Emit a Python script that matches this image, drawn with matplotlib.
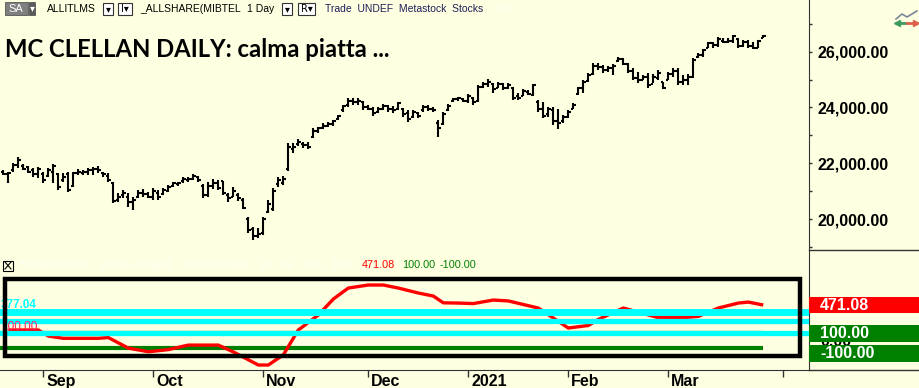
import matplotlib
matplotlib.use('Agg')
import matplotlib.pyplot as plt
import matplotlib.ticker as ticker
import matplotlib.transforms as mtransforms
from matplotlib.patches import Rectangle
from matplotlib.lines import Line2D
import numpy as np


# ==================== DATA ====================
# daily OHLC, FTSE Italia All-Share, 20 Aug 2020 -> 26 Mar 2021 (one entry per trading day)
highs = [21760, 21700, 22000, 22210, 21970, 21900, 21820, 21880, 21700, 21820,
         21970, 21640, 21640, 21680, 21700, 21780, 21760, 21820, 21880, 21900,
         21700, 21640, 21340, 20920, 21040, 20920, 20800, 21040, 21070, 20980,
         21100, 21040, 21100, 21220, 21340, 21340, 21500, 21500, 21620, 21550,
         21260, 21340, 21420, 21400, 21380, 20920, 21140, 20920, 20740, 20060,
         19730, 19670, 20090, 20680, 21100, 21520, 21550, 22710, 22710, 22860,
         22780, 22780, 23250, 23310, 23430, 23490, 23550, 23730, 24090, 24330,
         24350, 24330, 24230, 24090, 24030, 24030, 24110, 24090, 24070, 24210,
         23970, 23910, 23910, 23850, 24090, 24090, 24030, 23550, 23830, 24110,
         24350, 24390, 24350, 24470, 24390, 24810, 24930, 25010, 24890, 24930,
         24870, 24890, 24750, 24510, 24650, 24630, 24840, 24270, 24210, 24030,
         24010, 23930, 23730, 23910, 24150, 24750, 24990, 25220, 25580, 25580,
         25520, 25490, 25560, 25800, 25760, 25580, 25400, 25280, 25170, 25220,
         25190, 25340, 24930, 25280, 25400, 25400, 25170, 25190, 25760, 25940,
         26100, 26360, 26360, 26540, 26480, 26480, 26600, 26480, 26420, 26420,
         26360, 26420, 26600]
lows = [21580, 21280, 21700, 21820, 21760, 21640, 21520, 21460, 21280, 21520,
        21280, 21040, 21340, 20980, 21160, 21580, 21580, 21580, 21580, 21640,
        21520, 21340, 20560, 20620, 20740, 20440, 20320, 20740, 20800, 20740,
        20680, 20680, 20860, 20980, 21160, 21180, 21300, 21340, 21400, 21340,
        20740, 20800, 21060, 21040, 20860, 20620, 20800, 20660, 20350, 19490,
        19250, 19310, 19430, 20210, 20270, 21160, 21220, 21740, 22360, 22620,
        22540, 22500, 22890, 23070, 23230, 23310, 23350, 23550, 23850, 24030,
        24090, 24090, 23910, 23910, 23700, 23790, 23910, 23850, 23790, 23910,
        23670, 23490, 23640, 23610, 23850, 23870, 23850, 22950, 23370, 23870,
        24210, 24230, 24210, 24150, 24090, 24210, 24690, 24750, 24530, 24690,
        24630, 24650, 24270, 24270, 24410, 24450, 24410, 23850, 23610, 23670,
        23370, 23220, 23460, 23610, 23930, 24450, 24510, 24930, 25170, 25340,
        25250, 25280, 25170, 25640, 25520, 25220, 24990, 24870, 24990, 24690,
        24870, 24990, 24660, 24990, 25110, 24810, 24810, 24810, 25050, 25760,
        25820, 26120, 26140, 26180, 26300, 26300, 26300, 26120, 26180, 26120,
        26100, 26120, 26480]
opens = [21700, 21600, 21750, 21950, 21900, 21850, 21750, 21600, 21600, 21550,
         21700, 21600, 21400, 21600, 21200, 21650, 21650, 21700, 21750, 21800,
         21650, 21550, 21300, 20700, 20850, 20800, 20600, 20800, 20950, 20900,
         20800, 20950, 20900, 21000, 21200, 21250, 21350, 21400, 21450, 21500,
         21200, 20850, 21200, 21300, 21350, 20850, 20800, 20850, 20700, 20000,
         19650, 19400, 19500, 20250, 20350, 21250, 21300, 21800, 22500, 22700,
         22700, 22650, 22950, 23150, 23250, 23350, 23400, 23600, 23900, 24100,
         24250, 24200, 24200, 24000, 23950, 23850, 23950, 24050, 23950, 23950,
         23950, 23800, 23650, 23800, 23900, 24000, 23950, 23450, 23400, 23900,
         24250, 24300, 24300, 24250, 24350, 24250, 24750, 24850, 24850, 24700,
         24850, 24700, 24700, 24400, 24400, 24550, 24450, 24200, 23950, 23750,
         23900, 23500, 23500, 23650, 23950, 24500, 24700, 24950, 25200, 25500,
         25450, 25350, 25400, 25650, 25750, 25550, 25300, 25050, 25000, 25100,
         24850, 25050, 24900, 25000, 25200, 25300, 24900, 25000, 25100, 25800,
         25900, 26150, 26300, 26250, 26400, 26350, 26400, 26450, 26200, 26350,
         26200, 26150, 26500]
closes = [21620, 21650, 21950, 22100, 21800, 21700, 21600, 21800, 21400, 21750,
          21900, 21150, 21500, 21050, 21650, 21700, 21700, 21750, 21800, 21750,
          21600, 21400, 20650, 20800, 20950, 20600, 20700, 20950, 20900, 20800,
          21000, 20800, 21050, 21150, 21300, 21300, 21450, 21450, 21550, 21400,
          20850, 21200, 21300, 21100, 20950, 20750, 21000, 20750, 20400, 19600,
          19400, 19450, 20000, 20550, 21000, 21400, 21450, 22600, 22600, 22750,
          22650, 22600, 23150, 23250, 23350, 23420, 23500, 23700, 24050, 24250,
          24200, 24250, 24000, 23950, 23800, 23950, 24050, 23950, 23900, 24150,
          23750, 23600, 23850, 23700, 24000, 23950, 23900, 23250, 23750, 24050,
          24300, 24350, 24250, 24400, 24200, 24750, 24850, 24900, 24650, 24850,
          24700, 24800, 24350, 24350, 24600, 24500, 24800, 23950, 23700, 23950,
          23500, 23450, 23650, 23850, 24100, 24700, 24900, 25150, 25500, 25450,
          25350, 25400, 25500, 25750, 25550, 25300, 25050, 25000, 25100, 24800,
          25100, 25250, 24700, 25200, 25300, 24900, 25000, 25100, 25700, 25900,
          26050, 26300, 26250, 26450, 26350, 26400, 26550, 26200, 26350, 26200,
          26150, 26400, 26550]

# McClellan oscillator, read at (trading-day index, value)
osc_idx = [1, 7, 9, 12, 19, 21, 25, 29, 33, 37, 43, 46, 51, 53, 56, 59, 63, 66,
           69, 73, 76, 79, 83, 86, 88, 91, 94, 98, 101, 107, 110, 113, 117, 119,
           124, 129, 131, 136, 139, 143, 147, 149, 152]
osc_val = [140, 140, 60, 30, 30, 40, -100, -148, -120, -60, -60, -150, -324,
           -324, -190, 140, 338, 550, 696, 736, 736, 696, 630, 590, 500, 497,
           490, 537, 525, 431, 299, 166, 200, 280, 431, 340, 303, 303, 320, 431,
           497, 510, 471]

cyan_levels = [377.04, 259, 100]
band_levels = [100, -100]

month_ticks = [8, 30, 52, 73, 93, 113, 133, 156]
month_labels = ['Sep', 'Oct', 'Nov', 'Dec', '2021', 'Feb', 'Mar', '']

price_ticks = [20000, 22000, 24000, 26000]
price_minor = [19000, 21000, 23000, 25000, 27000]

# ==================== LAYOUT ====================
W, H = 919, 388
BG = '#FFFFE1'
AXIS_X = 809
SANS = ['Liberation Sans', 'DejaVu Sans']


def fx(px):
    return px / W


def fy(py):
    return 1 - py / H


fig = plt.figure(figsize=(W / 100, H / 100), dpi=100, facecolor=BG)

ax = fig.add_axes([0, fy(250), fx(AXIS_X), 250 / H], facecolor=BG)
ax_osc = fig.add_axes([0, fy(370), fx(AXIS_X), 120 / H], facecolor=BG)

n = len(highs)
x = np.arange(n)
xlim = (-0.66, (AXIS_X - 3.3) / 5)

# === price OHLC bars ===
ax.vlines(x, lows, highs, color='black', lw=1.5)
ax.hlines(opens, x - 0.45, x, color='black', lw=1.5)
ax.hlines(closes, x, x + 0.45, color='black', lw=1.5)
ax.set_xlim(*xlim)
ax.set_ylim(18889, 27855)
for s in ['left', 'top', 'bottom']:
    ax.spines[s].set_visible(False)
ax.spines['right'].set_color('#333333')
ax.set_xticks([])
ax.yaxis.tick_right()
ax.set_yticks(price_ticks)
ax.set_yticks(price_minor, minor=True)
ax.yaxis.set_major_formatter(ticker.FuncFormatter(lambda v, p: f'{v:,.2f}'))
ax.tick_params(axis='y', which='both', direction='out', length=2.5, width=1,
               color='#333333', pad=3.5)
for lab in ax.get_yticklabels():
    lab.set_fontweight('bold')
    lab.set_fontsize(11.5)
    lab.set_family(SANS)

# === oscillator ===
ax_osc.plot(osc_idx, osc_val, color='#FF0000', lw=2.4, zorder=2,
            solid_capstyle='butt')
for i, lvl in enumerate(cyan_levels):
    ax_osc.axhline(lvl, color='#00FFFF', lw=5 if i == 0 else 3.8, zorder=3)
for lvl in band_levels:
    ax_osc.hlines(lvl, xlim[0], n - 1, color='#008000', lw=3, zorder=1.5)
ax_osc.set_xlim(*xlim)
ax_osc.set_ylim(-390, 1200)
ax_osc.set_yticks([])
for s in ['left', 'top']:
    ax_osc.spines[s].set_visible(False)
ax_osc.spines['right'].set_color('#333333')
ax_osc.spines['bottom'].set_color('#333333')
ax_osc.set_xticks(month_ticks)
ax_osc.set_xticklabels([])
ax_osc.tick_params(axis='x', direction='out', length=5, width=1, color='#333333')

off = mtransforms.ScaledTranslation(3 / 100, -4 / 100, fig.dpi_scale_trans)
trans = mtransforms.blended_transform_factory(ax_osc.transData, ax_osc.transAxes) + off
for t, lab in zip(month_ticks, month_labels):
    ax_osc.text(t, 0, lab, transform=trans, ha='left', va='top', fontsize=11.5,
                fontweight='bold', family=SANS, clip_on=False)

# black frame drawn round the oscillator
frame = Rectangle((fx(5), fy(356)), fx(799.5) - fx(5), fy(279) - fy(356),
                  transform=fig.transFigure, fill=False, ec='black', lw=3.2, zorder=6)
fig.add_artist(frame)

# left-side level labels in the oscillator
fig.text(fx(1), fy(305), '377.04', color='#00FFFF', fontsize=8.5, fontweight='bold',
         va='center', family=SANS, zorder=1)
fig.text(fx(1), fy(327), '100.00', color='#FF2060', fontsize=8.5, va='center',
         family=SANS, zorder=1)

# legend row
fig.add_artist(Rectangle((fx(3), fy(271)), fx(10), 10 / H, transform=fig.transFigure,
                         fill=False, ec='black', lw=0.8))
fig.add_artist(Line2D([fx(5), fx(11)], [fy(262), fy(269)], transform=fig.transFigure,
                      color='black', lw=0.8))
fig.add_artist(Line2D([fx(5), fx(11)], [fy(269), fy(262)], transform=fig.transFigure,
                      color='black', lw=0.8))
fig.text(fx(21), fy(265), 'McClellan Osc.  (close of data1,  close of data2,  19,  39,  -100,  100)',
         color='#FFFFF4', fontsize=7.8, va='center', family=SANS)
fig.text(fx(362), fy(265), '471.08', color='#FF0000', fontsize=7.8, va='center', family=SANS)
fig.text(fx(402), fy(265), '100.00', color='#008000', fontsize=7.8, va='center', family=SANS)
fig.text(fx(440), fy(265), '-100.00', color='#008000', fontsize=7.8, va='center', family=SANS)

# right-side value boxes
fig.text(fx(820), fy(342), '0.00', color='black', fontsize=11.5, fontweight='bold',
         va='center', family=SANS, zorder=1)
for top, bot, col, txt in [(297, 313, '#FF0000', '471.08'),
                           (325, 342, '#008000', '100.00'),
                           (345, 362, '#008000', '-100.00')]:
    fig.add_artist(Rectangle((fx(AXIS_X), fy(bot)), 1 - fx(AXIS_X), (bot - top) / H,
                             transform=fig.transFigure, fc=col, ec='none', zorder=2))
    fig.text(fx(820), fy((top + bot) / 2 + 0.5), txt, color='white', fontsize=11.5,
             fontweight='bold', va='center', family=SANS, zorder=3)

# panel separator lines on the right and the full-width date axis
fig.add_artist(Line2D([fx(AXIS_X), 1], [fy(250), fy(250)], transform=fig.transFigure,
                      color='#333333', lw=1))
fig.add_artist(Line2D([fx(AXIS_X), 1], [fy(370), fy(370)], transform=fig.transFigure,
                      color='#333333', lw=1))

# === header row ===
fig.add_artist(Rectangle((fx(5), fy(15)), fx(23), 13 / H, transform=fig.transFigure,
                         fc='#7F7F7F', ec='#555555', lw=0.6))
fig.add_artist(Rectangle((fx(29), fy(15)), fx(6), 13 / H, transform=fig.transFigure,
                         fc='#5A5A5A', ec='#555555', lw=0.6))
fig.text(fx(8), fy(8.5), 'SA', color='white', fontsize=8, va='center', family=SANS)
fig.text(fx(29.5), fy(8.5), '▾', color='white', fontsize=7, va='center', family=SANS)
for x0, x1, lab in [(103, 113, '▾'), (118, 132, 'I▾'), (282, 292, '▾'), (298, 315, 'R▾')]:
    fig.add_artist(Rectangle((fx(x0), fy(15)), fx(x1 - x0), 12 / H, transform=fig.transFigure,
                             fc='white', ec='#333333', lw=0.8))
    fig.text(fx((x0 + x1) / 2), fy(9), lab, color='black', fontsize=7, ha='center',
             va='center', family=['DejaVu Sans'])
fig.text(fx(47), fy(8.5), 'ALLITLMS', fontsize=7.5, va='center', family=SANS)
fig.text(fx(140), fy(8.5), '_ALLSHARE(MIBTEL', fontsize=7.5, va='center', family=SANS)
fig.text(fx(247), fy(8.5), '1 Day', fontsize=7.5, va='center', family=SANS)
fig.text(fx(325), fy(8.5), 'Trade  UNDEF  Metastock  Stocks', fontsize=7.5, color='#1E1E5A',
         va='center', family=SANS)
fig.text(fx(493), fy(8.5), 'V=0', fontsize=7.5, color='#FFFFF4', va='center', family=SANS)

title = fig.text(fx(5), fy(57), 'MC CLELLAN DAILY: calma piatta ...', fontsize=16,
                 fontweight='bold', va='baseline', family=['Lato', 'DejaVu Sans'])

# small chart icon, top right
fig.add_artist(Line2D([fx(896), fx(902), fx(907), fx(917)], [fy(19), fy(14), fy(17), fy(11)],
                      transform=fig.transFigure, color='#7A8699', lw=1.2))
fig.add_artist(Line2D([fx(897), fx(905)], [fy(23), fy(23)], transform=fig.transFigure,
                      color='#3C9A5F', lw=2, marker='<', markevery=[0], markersize=4))
fig.add_artist(Line2D([fx(907), fx(916)], [fy(23), fy(23)], transform=fig.transFigure,
                      color='#E0604A', lw=2, marker='>', markevery=[1], markersize=4))

# fit title width to the reference (about 385 px)
fig.canvas.draw()
w = title.get_window_extent().width
title.set_fontsize(16 * 385 / w)

fig.savefig('out.png', dpi=100, facecolor=BG)
